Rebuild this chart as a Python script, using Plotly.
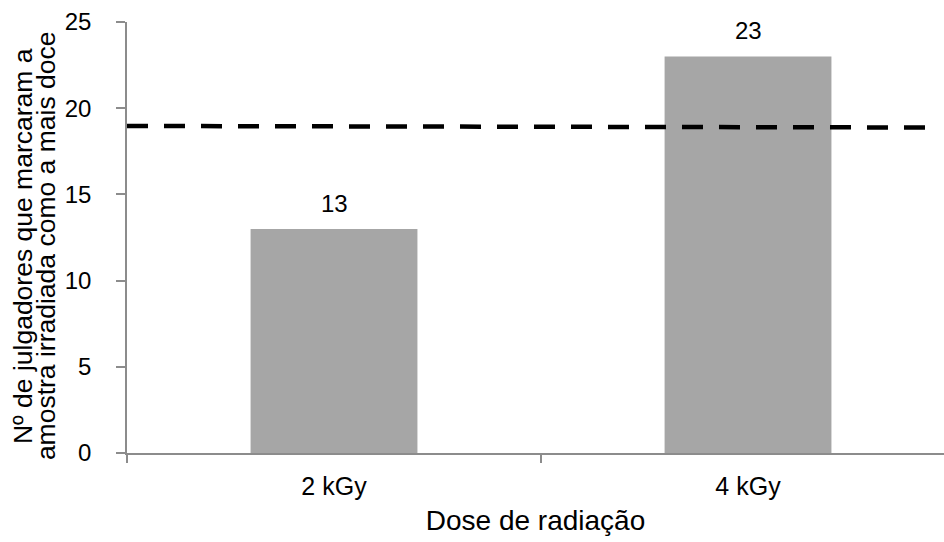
import plotly.graph_objects as go

categories = ["2 kGy", "4 kGy"]
values = [13, 23]
ref_x = [-0.5, 1.444]
ref_y = [18.97, 18.88]
y_ticks = [0, 5, 10, 15, 20, 25]

FONT = "Liberation Sans, Arial, sans-serif"
AX = "#8C8C8C"

fig = go.Figure()
fig.add_trace(go.Bar(x=categories, y=values, marker=dict(color="#A6A6A6", line=dict(width=0)),
                     width=0.403, showlegend=False, hoverinfo="skip"))
fig.add_trace(go.Scatter(x=ref_x, y=ref_y, xaxis="x2", mode="lines",
                         line=dict(color="black", width=4.5, dash="21px,16px"),
                         showlegend=False, hoverinfo="skip"))

for c, v in zip(categories, values):
    fig.add_annotation(x=c, y=v, text=str(v), showarrow=False, yanchor="bottom",
                       yshift=10, font=dict(family=FONT, size=24, color="black"))

xr = [-0.5, 1.4734]
fig.update_layout(
    width=944, height=542,
    margin=dict(l=127, r=0, t=22, b=89),
    plot_bgcolor="white", paper_bgcolor="white",
    bargap=0.597,
    xaxis=dict(type="category", range=xr, showline=True, linecolor=AX, linewidth=1.5,
               ticks="outside", tickson="boundaries", ticklen=8, tickcolor=AX, tickwidth=1.5,
               showgrid=False, tickfont=dict(family=FONT, size=25, color="black"),
               ticklabelstandoff=10,
               title=dict(text="Dose de radiação", font=dict(family=FONT, size=28, color="black"),
                          standoff=12)),
    xaxis2=dict(overlaying="x", range=xr, visible=False, showgrid=False, zeroline=False),
    yaxis=dict(range=[0, 25], tickvals=y_ticks, showline=True, linecolor=AX, linewidth=1.5,
               ticks="outside", ticklen=9, tickcolor=AX, tickwidth=1.5,
               showgrid=False, zeroline=False,
               tickfont=dict(family=FONT, size=24, color="black"), ticklabelstandoff=20),
)

fig.add_annotation(xref="paper", yref="paper", x=0, y=0.48, xshift=-121, textangle=-90,
                   text="Nº de julgadores que marcaram a", showarrow=False,
                   font=dict(family=FONT, size=26.5, color="black"))
fig.add_annotation(xref="paper", yref="paper", x=0, y=0.48, xshift=-98, textangle=-90,
                   text="amostra irradiada como a mais doce", showarrow=False,
                   font=dict(family=FONT, size=26.5, color="black"))

fig.write_html("out.html")
